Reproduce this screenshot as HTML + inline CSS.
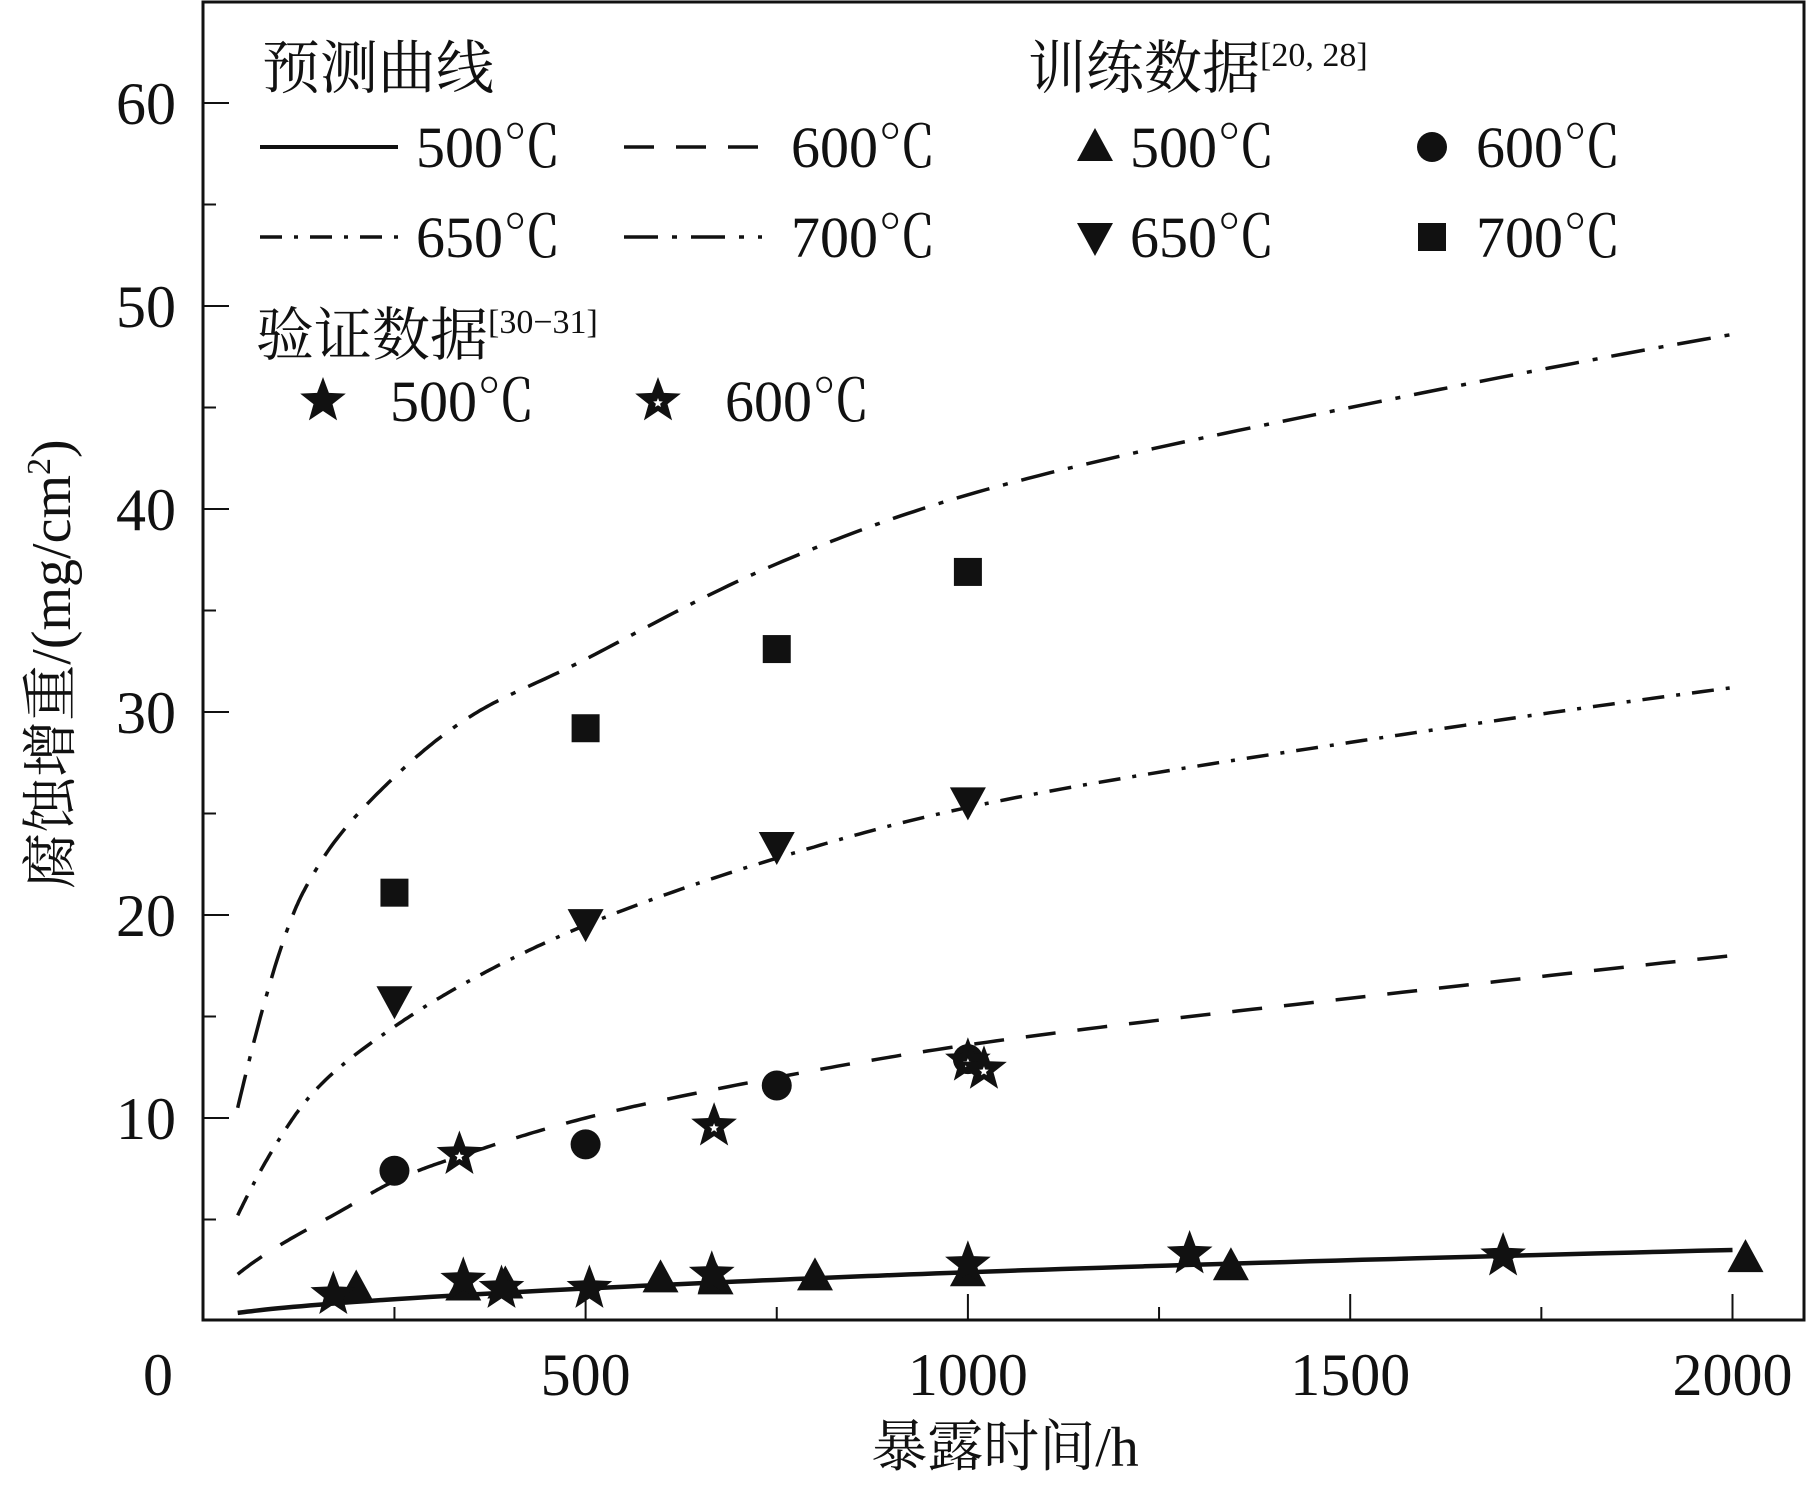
<!DOCTYPE html>
<html><head><meta charset="utf-8"><style>
html,body{margin:0;padding:0;background:#fff;}
svg{display:block;}
text{font-family:"Liberation Serif","Noto Serif CJK SC",serif;fill:#111;}
.cjk{font-family:"Noto Serif CJK SC","Noto Sans CJK SC",serif;font-weight:normal;}
</style></head><body>
<svg id="chart" width="1811" height="1486" viewBox="0 0 1811 1486" xmlns="http://www.w3.org/2000/svg">
<rect x="203" y="2" width="1601" height="1318" fill="none" stroke="#111" stroke-width="3"/>
<g id="axes"></g>
<g id="curves"></g>
<g id="marks"></g>
<g id="legend">
<text x="262" y="88" font-size="58" class="cjk">预测曲线</text>
<line x1="260" y1="147" x2="398" y2="147" stroke="#111" stroke-width="4"/>
<text x="416" y="167" font-size="58">500℃</text>
<line x1="624" y1="147" x2="762" y2="147" stroke="#111" stroke-width="3.5" stroke-dasharray="30 22"/>
<text x="791" y="167" font-size="58">600℃</text>
<line x1="260" y1="237" x2="398" y2="237" stroke="#111" stroke-width="3.5" stroke-dasharray="22 12 4 12"/>
<text x="416" y="257" font-size="58">650℃</text>
<line x1="624" y1="237" x2="762" y2="237" stroke="#111" stroke-width="3.5" stroke-dasharray="34 14 5 14"/>
<text x="791" y="257" font-size="58">700℃</text>
<text x="1028" y="88" font-size="58"><tspan class="cjk">训练数据</tspan><tspan font-size="34" dy="-22">[20, 28]</tspan></text>
<text x="1130" y="167" font-size="58">500℃</text>
<text x="1476" y="167" font-size="58">600℃</text>
<text x="1130" y="257" font-size="58">650℃</text>
<text x="1476" y="257" font-size="58">700℃</text>
<text x="256" y="355" font-size="58"><tspan class="cjk">验证数据</tspan><tspan font-size="34" dy="-22">[30−31]</tspan></text>
<text x="390" y="421" font-size="58">500℃</text>
<text x="725" y="421" font-size="58">600℃</text>
</g>
<text transform="translate(70,664) rotate(-90)" text-anchor="middle" font-size="56"><tspan class="cjk">腐蚀增重</tspan>/(mg/cm<tspan font-size="34" dy="-20">2</tspan><tspan dy="20">)</tspan></text>
<text x="1005" y="1466" text-anchor="middle" font-size="56"><tspan class="cjk">暴露时间</tspan>/h</text>
</svg>
<script>
const xTicks=[0,500,1000,1500,2000];
const yTicks=[10,20,30,40,50,60];
const c500x=[45,500,1000,2000];
const c500y=[0.4,1.6,2.4,3.5];
const c600x=[45,150,250,350,500,750,1000,1500,2000];
const c600y=[2.3,4.8,6.9,8.3,10,12,13.6,15.9,18];
const c650x=[45,100,150,250,350,500,750,1000,1500,2000];
const c650y=[5.2,9,11.5,14.5,16.8,19.5,22.8,25.3,28.5,31.2];
const c700x=[45,100,150,250,350,500,750,1000,1500,2000];
const c700y=[10.5,18.2,22.4,26.8,29.8,32.6,37.3,40.7,45,48.6];
const sq700x=[250,500,750,1000];
const sq700y=[21.1,29.2,33.1,36.9];
const dn650x=[250,500,750,1000];
const dn650y=[15.8,19.6,23.4,25.6];
const ci600x=[250,500,750,1000];
const ci600y=[7.4,8.7,11.6,12.9];
const up500x=[200,340,395,598,670,800,1000,1344,2017];
const up500y=[1.6,1.7,1.8,2.1,2.0,2.2,2.4,2.7,3.1];
const st500x=[170,340,390,505,665,1000,1290,1700];
const st500y=[1.3,2.0,1.6,1.6,2.3,2.8,3.3,3.2];
const st600x=[335,668,1000,1021];
const st600y=[8.2,9.6,12.8,12.4];

const NS='http://www.w3.org/2000/svg';
const X=v=>203.3+v*0.7646;
const Y=v=>1321-v*20.3;
function mk(tag,attrs,parent){const e=document.createElementNS(NS,tag);for(const k in attrs)e.setAttribute(k,attrs[k]);parent.appendChild(e);return e;}
const axes=document.getElementById('axes'),curves=document.getElementById('curves'),marks=document.getElementById('marks');

for(let v=250;v<=2000;v+=250){
 const major=v%500===0;
 const t=mk('line',{x1:X(v),x2:X(v),y1:1320,y2:1320-(major?26:13),stroke:'#111','stroke-width':2},axes);
 
 
}
xTicks.forEach(v=>{
 const t=mk('text',{x:v===0?158:X(v),y:1395,'text-anchor':'middle','font-size':60},axes);
 t.textContent=v;
 
 
});
for(let v=5;v<=60;v+=5){
 const major=v%10===0;
 const t=mk('line',{x1:203,x2:203+(major?26:13),y1:Y(v),y2:Y(v),stroke:'#111','stroke-width':2},axes);
 
 
}
yTicks.forEach(v=>{
 const t=mk('text',{x:176,y:Y(v)+21,'text-anchor':'end','font-size':60},axes);
 t.textContent=v;
 
 
});

// Catmull-Rom in log-log space, densely sampled
function pathFrom(xs,ys){
 const p=xs.map((x,i)=>[Math.log(x),Math.log(ys[i])]);
 const out=[];
 for(let i=0;i<p.length-1;i++){
  const p0=p[i-1]||[2*p[i][0]-p[i+1][0],2*p[i][1]-p[i+1][1]],p1=p[i],p2=p[i+1],p3=p[i+2]||[2*p2[0]-p1[0],2*p2[1]-p1[1]];
  for(let k=0;k<30;k++){
   const t=k/30,t2=t*t,t3=t2*t;
   const f=(a,b,c,d)=>0.5*((2*b)+(-a+c)*t+(2*a-5*b+4*c-d)*t2+(-a+3*b-3*c+d)*t3);
   out.push([f(p0[0],p1[0],p2[0],p3[0]),f(p0[1],p1[1],p2[1],p3[1])]);
  }
 }
 out.push(p[p.length-1]);
 return 'M'+out.map(q=>X(Math.exp(q[0])).toFixed(1)+','+Y(Math.exp(q[1])).toFixed(1)).join(' L');
}
const cs=[[c500x,c500y,'none',4.5,'curve-500'],[c600x,c600y,'30 22',3.5,'curve-600'],[c650x,c650y,'22 12 4 12',3.5,'curve-650'],[c700x,c700y,'34 14 5 14',3.5,'curve-700']];
cs.forEach(c=>{
 const e=mk('path',{d:pathFrom(c[0],c[1]),fill:'none',stroke:'#111','stroke-width':c[3],'stroke-dasharray':c[2]},curves);
 
 
});

function starPts(cx,cy,R,r){let s=[];for(let i=0;i<10;i++){const a=-Math.PI/2+i*Math.PI/5,rr=i%2?r:R;s.push((cx+rr*Math.cos(a)).toFixed(1)+','+(cy+rr*Math.sin(a)).toFixed(1));}return s.join(' ');}
function marker(type,cx,cy,parent,name){
 let e;
 if(type==='sq')e=mk('rect',{x:cx-14,y:cy-14,width:28,height:28,fill:'#111'},parent);
 else if(type==='ci')e=mk('circle',{cx:cx,cy:cy,r:15,fill:'#111'},parent);
 else if(type==='up')e=mk('polygon',{points:`${cx},${cy-19} ${cx+18},${cy+14} ${cx-18},${cy+14}`,fill:'#111'},parent);
 else if(type==='dn')e=mk('polygon',{points:`${cx},${cy+19} ${cx+18},${cy-14} ${cx-18},${cy-14}`,fill:'#111'},parent);
 else if(type==='st')e=mk('polygon',{points:starPts(cx,cy,24,10),fill:'#111'},parent);
 else {e=mk('g',{},parent);mk('polygon',{points:starPts(cx,cy,24,10),fill:'#111'},e);mk('polygon',{points:starPts(cx,cy+2,5,2.2),fill:'#fff'},e);}
 
 
}
[[sq700x,sq700y,'sq','point-700'],[dn650x,dn650y,'dn','point-650'],[ci600x,ci600y,'ci','point-600'],[up500x,up500y,'up','point-500'],[st500x,st500y,'st','valid-point-500'],[st600x,st600y,'st2','valid-point-600']].forEach(s=>{
 s[0].forEach((x,i)=>marker(s[2],X(x),Y(s[1][i]),marks,s[3]));
});
const leg=document.getElementById('legend');
marker('up',1095,147,leg,'legend-marker-500-train');
marker('ci',1432,147,leg,'legend-marker-600-train');
marker('dn',1095,237,leg,'legend-marker-650-train');
marker('sq',1432,237,leg,'legend-marker-700-train');
marker('st',323,401,leg,'legend-marker-500-valid');
marker('st2',658,401,leg,'legend-marker-600-valid');
</script>
</body></html>
